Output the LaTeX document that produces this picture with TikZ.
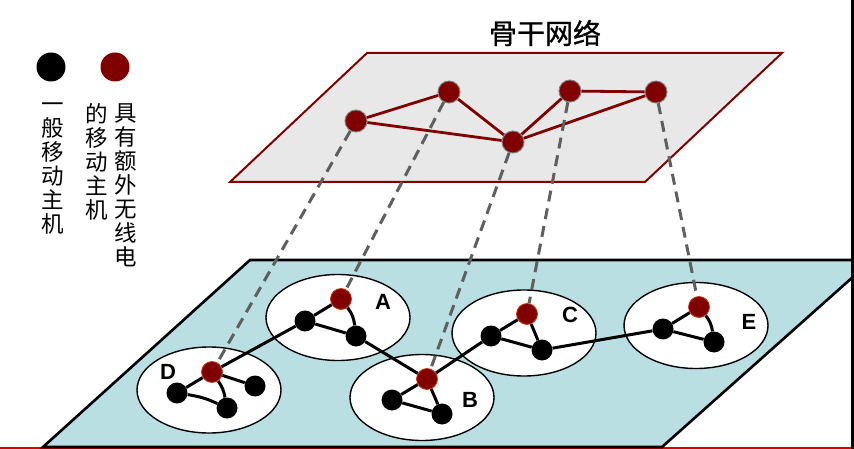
\documentclass[tikz,border=0pt]{standalone}
\usepackage{fontspec}
\usetikzlibrary{shapes.geometric}
\setmainfont{Liberation Sans}
\newfontfamily\cjk{Noto Sans CJK SC}
\newfontfamily\cjkb[FakeBold=1]{Noto Sans CJK SC}
\definecolor{dred}{RGB}{128,0,0}
\definecolor{planegray}{RGB}{232,232,232}
\definecolor{lblue}{RGB}{185,223,227}
\definecolor{dashgray}{RGB}{95,95,95}
\definecolor{redborder}{RGB}{200,60,20}
\tikzset{
  bn/.style={circle, fill=black, minimum size=21pt, inner sep=0pt},
  rn/.style={circle, fill=dred, draw=redborder, line width=0.8pt, minimum size=21pt, inner sep=0pt},
  tn/.style={circle, fill=dred, draw=gray, line width=1pt, minimum size=22pt, inner sep=0pt},
  cluster/.style={ellipse, draw=black, fill=white, line width=1.4pt, minimum width=144pt, minimum height=86pt, inner sep=0pt},
  edge/.style={line width=3pt, black},
  tedge/.style={line width=2.8pt, dred},
  link/.style={line width=3pt, dashgray, dash pattern=on 11pt off 7pt},
  lab/.style={font=\bfseries\fontsize{22}{22}\selectfont},
  vtext/.style={anchor=north, align=center, inner sep=0pt, font=\cjk\fontsize{22.5}{24}\selectfont},
}
\begin{document}
\begin{tikzpicture}[x=1pt,y=-1pt]
\useasboundingbox (0,0) rectangle (854,449);
% frame artifacts
\draw[red!85!black, line width=2pt] (0,447.5) -- (852,447.5);
% bottom plane
\filldraw[fill=lblue, draw=black, line width=2.6pt, line join=miter]
  (250,260) -- (854,260) -- (854,276) -- (662,447) -- (43,447) -- cycle;
\draw[black, line width=2.2pt] (852.5,0) -- (852.5,449);
% top plane
\filldraw[fill=planegray, draw=dred, line width=2pt]
  (367,53) -- (782,53) -- (645,182) -- (230,182) -- cycle;
\node[font=\cjkb\fontsize{28}{28}\selectfont] (title) at (545,33) {骨干网络};

% legend
\node[circle, fill=black, minimum size=29pt, inner sep=0pt] (legb) at (51,67) {};
\node[circle, fill=dred, minimum size=29pt, inner sep=0pt] (legr) at (115,67) {};
\node[vtext] (t1) at (53,103) {一\\般\\移\\动\\主\\机};
\node[vtext] (t2) at (97,103) {的\\移\\动\\主\\机};
\node[vtext] (t3) at (126,103) {具\\有\\额\\外\\无\\线\\电};

% clusters
\node[cluster] (cA) at (338,317.5) {};
\node[cluster] (cC) at (524,333) {};
\node[cluster] (cE) at (696,325.5) {};
\node[cluster] (cD) at (209,390) {};
\node[cluster] (cB) at (422,397.5) {};

% top nodes
\node[tn] (n1) at (356,121) {};
\node[tn] (n2) at (449,92) {};
\node[tn] (n3) at (513,142) {};
\node[tn] (n4) at (570,91) {};
\node[tn] (n5) at (656,92) {};

% lower nodes
\node[rn] (dr) at (212,372) {};
\node[bn] (d1) at (177,393) {};
\node[bn] (d2) at (227,408) {};
\node[bn] (d3) at (255,386) {};

\node[rn] (ar) at (341,299) {};
\node[bn] (a1) at (305,321) {};
\node[bn] (a2) at (356,336) {};

\node[rn] (br) at (427,379) {};
\node[bn] (b1) at (392,400) {};
\node[bn] (b2) at (442,414) {};

\node[rn] (cr) at (527,314) {};
\node[bn] (c1) at (491,336) {};
\node[bn] (c2) at (542,350) {};

\node[rn] (er) at (699,307) {};
\node[bn] (e1) at (663,329) {};
\node[bn] (e2) at (714,342) {};

% labels
\node[lab] (lA) at (383,302) {A};
\node[lab] (lB) at (470,400) {B};
\node[lab] (lC) at (570,315) {C};
\node[lab] (lD) at (168,372) {D};
\node[lab] (lE) at (749,322) {E};

% top edges
\draw[tedge] (n1) -- (n2);
\draw[tedge] (n1) -- (n3);
\draw[tedge] (n2) -- (n3);
\draw[tedge] (n3) -- (n4);
\draw[tedge] (n4) -- (n5);
\draw[tedge] (n3) -- (n5);

% dashed links
\draw[link] (n1) -- (dr);
\draw[link] (n2) -- (ar);
\draw[link] (n3) -- (br);
\draw[link] (n4) -- (cr);
\draw[link] (n5) -- (er);

% lower edges
\draw[edge] (dr) -- (d1);
\draw[edge] (d1) to[bend left=8] (d2);
\draw[edge] (dr) to[bend left=12] (d2);
\draw[edge] (dr) -- (d3);
\draw[edge] (dr) -- (a1);
\draw[edge] (ar) -- (a1);
\draw[edge] (a1) -- (a2);
\draw[edge] (ar) to[bend left=15] (a2);
\draw[edge] (a2) -- (br);
\draw[edge] (br) -- (b1);
\draw[edge] (b1) -- (b2);
\draw[edge] (br) -- (b2);
\draw[edge] (br) -- (c1);
\draw[edge] (cr) -- (c1);
\draw[edge] (c1) -- (c2);
\draw[edge] (cr) -- (c2);
\draw[edge] (c2) -- (e1);
\draw[edge] (er) -- (e1);
\draw[edge] (e1) -- (e2);
\draw[edge] (er) to[bend left=15] (e2);
\end{tikzpicture}
\end{document}
